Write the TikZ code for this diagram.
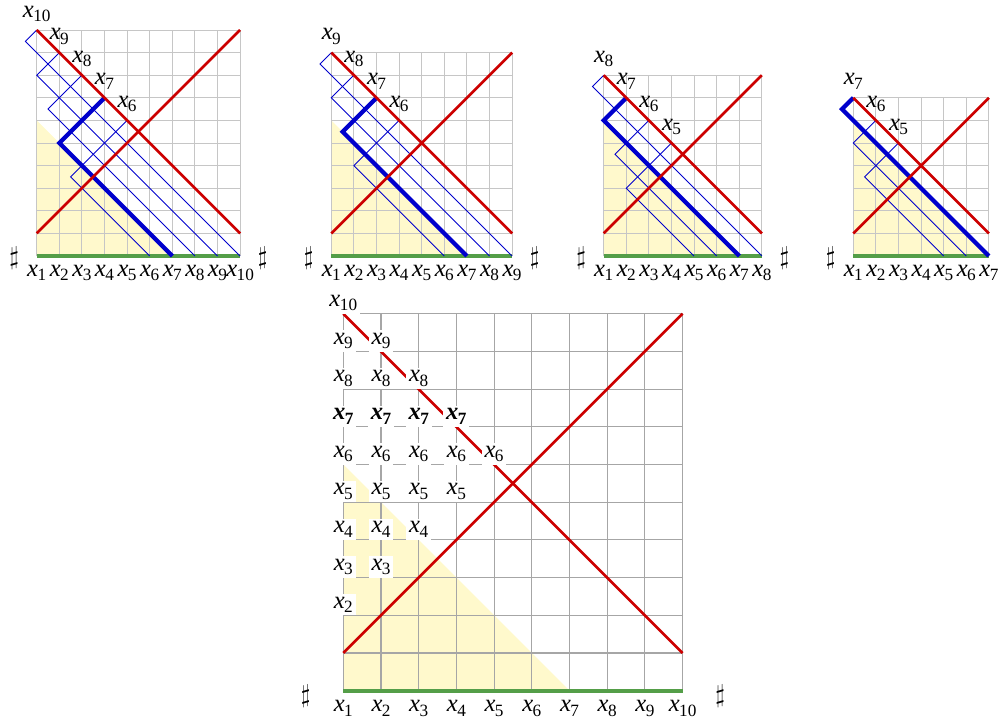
\documentclass[tikz,border=0pt]{standalone}
\usepackage{fontspec}
\setmainfont{Liberation Serif}
\usepackage{tikz}
\definecolor{chred}{RGB}{204,0,0}
\definecolor{chblue}{RGB}{0,0,204}
\definecolor{chgreen}{RGB}{84,158,72}
\definecolor{chyellow}{RGB}{255,249,204}

% variable label x_i (text italic x, upright digits)
\newcommand{\xl}[1]{\textit{x}\kern-0.3pt\raisebox{-2.6pt}{\fontsize{9.8}{11}\selectfont #1}}
\newcommand{\xlb}[1]{\textbf{\textit{x}\kern-0.3pt\raisebox{-2.6pt}{\fontsize{9.8}{11}\selectfont #1}}}

% small chart: #1 = rows n, #2 = number of paths, #3 = name prefix
\newcommand{\smallchart}[3]{%
  \pgfmathtruncatemacro{\lastcol}{#1-1}%
  \pgfmathtruncatemacro{\lastpath}{#2-1}%
  \fill[chyellow] (0,0) -- (6,0) -- (0,6) -- cycle;
  \draw[gridline] (0,0) grid[step=1] (\lastcol,#1);
  \draw[greenbase] (0,0) -- (\lastcol,0);
  % paths down to the base
  \foreach \a in {0,...,\lastpath} {
    \pgfmathtruncatemacro{\pk}{#1-\a}
    \ifnum\pk=7 \def\pstyle{bluethick}\else\def\pstyle{blueline}\fi
    \draw[\pstyle] (\a,\pk) -- ({(\a-1)/2},{#1-(3*\a+1)/2}) -- ({#1-1-\a},0);
    \node (#3p\a) at (\a,\pk+0.72) {\xl{\pk}};
  }
  \draw[redline] (0,#1) -- (\lastcol,1);
  \draw[redline] (0,1) -- (\lastcol,#1);
  % base labels
  \foreach \i in {1,...,#1}
    \node (#3b\i) at (\i-1,0) [yshift=-0.34cm] {\xl{\i}};
  \node (#3sl) at (-1,0) [yshift=-0.05cm] {$\sharp$};
}

\begin{document}
\begin{tikzpicture}[
    font=\fontsize{14}{16}\selectfont,
    gridline/.style={draw=gray!45, line width=0.5pt},
    gridbig/.style={draw=gray!70, line width=0.6pt},
    redline/.style={chred, line width=1.5pt},
    blueline/.style={chblue, line width=0.5pt},
    bluethick/.style={chblue, line width=2.4pt},
    greenbase/.style={chgreen, line width=2.2pt},
    boxlbl/.style={fill=white, inner sep=1.6pt}
  ]
    \useasboundingbox (0,0) rectangle (20.12,-14.38);
    % Chart n=10
    \begin{scope}[shift={(0.734cm,-5.12cm)}, x=0.452cm, y=0.452cm]
      \smallchart{10}{5}{a}
      \node (asr) at (10,0) [yshift=-0.05cm] {$\sharp$};
    \end{scope}
    % Chart n=9
    \begin{scope}[shift={(6.626cm,-5.12cm)}, x=0.452cm, y=0.452cm]
      \smallchart{9}{4}{b}
      \node (bsr) at (9,0) [yshift=-0.05cm] {$\sharp$};
    \end{scope}
    % Chart n=8
    \begin{scope}[shift={(12.074cm,-5.12cm)}, x=0.452cm, y=0.452cm]
      \smallchart{8}{4}{c}
      \node (csr) at (8,0) [yshift=-0.05cm] {$\sharp$};
    \end{scope}
    % Chart n=7
    \begin{scope}[shift={(17.066cm,-5.12cm)}, x=0.452cm, y=0.452cm]
      \smallchart{7}{3}{d}
    \end{scope}
    % Large chart
    \begin{scope}[shift={(6.866cm,-13.814cm)}, x=0.754cm, y=0.754cm]
      \fill[chyellow] (0,0) -- (6,0) -- (0,6) -- cycle;
      \draw[gridbig] (0,0) grid[step=1] (9,10);
      \draw[greenbase] (0,0) -- (9,0);
      \draw[redline] (0,10) -- (9,1);
      \draw[redline] (0,1) -- (9,10);
      % row labels
      \node[boxlbl] (e10) at (0,10.28) {\xl{10}};
      \foreach \k/\m in {9/1,8/2,7/3,6/4,5/3,4/2,3/1,2/0}
        \foreach \c in {0,...,\m} {
          \ifnum\k=7
            \node[boxlbl] (e\k c\c) at (\c,\k+0.28) {\xlb{\k}};
          \else
            \node[boxlbl] (e\k c\c) at (\c,\k+0.28) {\xl{\k}};
          \fi
        }
      % base labels
      \foreach \i in {1,...,10}
        \node (eb\i) at (\i-1,0) [yshift=-0.35cm] {\xl{\i}};
      \node (esl) at (-1,0) [yshift=-0.1cm] {$\sharp$};
      \node (esr) at (10,0) [yshift=-0.1cm] {$\sharp$};
    \end{scope}
  \end{tikzpicture}
\end{document}
